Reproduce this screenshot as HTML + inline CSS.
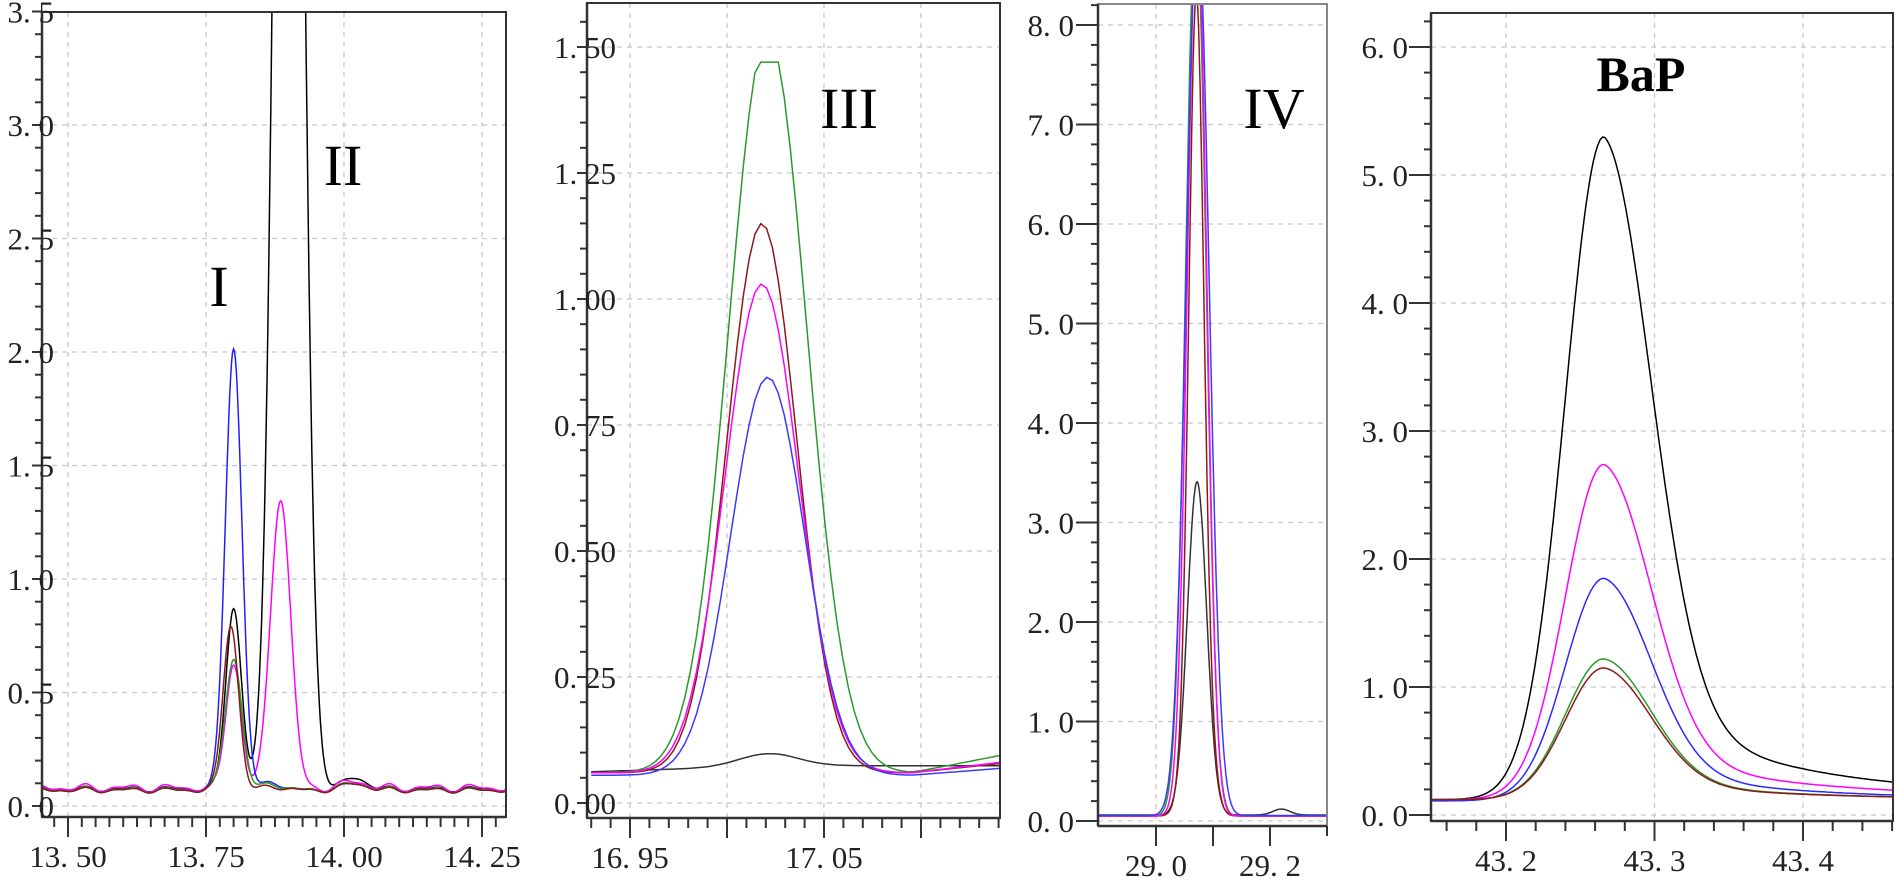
<!DOCTYPE html>
<html><head><meta charset="utf-8">
<style>
html,body{margin:0;padding:0;background:#fff;}
svg text{font-family:"Liberation Serif","Noto Serif CJK SC",serif;}
</style></head>
<body>
<svg id="s" width="1895" height="880" xmlns="http://www.w3.org/2000/svg"></svg>
<script>
const S=document.getElementById('s');
let out='';
function g(x,m,s){return Math.exp(-0.5*((x-m)/s)**2);}
function panel(P){
  const X=v=>P.x0+(v-P.xv0)*P.xs, Y=v=>P.y0-(v)*P.ys;
  const id='c'+P.x0;
  out+=`<defs><clipPath id="${id}"><rect x="${P.L}" y="${P.T}" width="${P.R-P.L}" height="${P.B-P.T}"/></clipPath></defs>`;
  P.xg.forEach(v=>{out+=`<line x1="${X(v)}" y1="${P.T}" x2="${X(v)}" y2="${P.B}" stroke="#c8c8c8" stroke-width="1.3" stroke-dasharray="5,5"/>`;});
  P.yl.forEach(o=>{out+=`<line x1="${P.L}" y1="${Y(o[0])}" x2="${P.R}" y2="${Y(o[0])}" stroke="#c8c8c8" stroke-width="1.3" stroke-dasharray="5,5"/>`;});
  P.series.forEach(sr=>{
    let d='';
    for(let i=0;i<=P.n;i++){const v=P.xa+(P.xb-P.xa)*i/P.n;const y=sr.f(v);d+=(i?'L':'M')+X(v).toFixed(1)+','+Y(y).toFixed(1);}
    out+=`<path d="${d}" fill="none" stroke="${sr.c}" stroke-width="1.5" clip-path="url(#${id})"/>`;
  });
  out+=`<rect x="${P.L}" y="${P.T}" width="${P.R-P.L}" height="${P.B-P.T}" fill="none" stroke="${P.fc||'#333'}" stroke-width="2"/>`;
  out+=`<line x1="${P.L}" y1="${P.T}" x2="${P.L}" y2="${P.B}" stroke="#333" stroke-width="2.5"/>`;
  out+=`<line x1="${P.L}" y1="${P.B}" x2="${P.R}" y2="${P.B}" stroke="#333" stroke-width="2.5"/>`;
  for(let v=P.ymt0;Y(v)>=P.T-1;v+=P.ymt){const y=Y(v);if(y>P.B)continue;out+=`<line x1="${P.L-7}" y1="${y}" x2="${P.L}" y2="${y}" stroke="#333" stroke-width="2"/>`;}
  P.yl.forEach(o=>{const y=Y(o[0]);out+=`<line x1="${P.L-P.ytl}" y1="${y}" x2="${P.L}" y2="${y}" stroke="#333" stroke-width="2"/><text x="${P.ylx}" y="${y+11}" font-size="31" text-anchor="end" fill="#222">${o[1]}</text>`;});
  for(let v=P.xmt0;X(v)<=P.R+1;v+=P.xmt){const x=X(v);if(x<P.L)continue;out+=`<line x1="${x}" y1="${P.B}" x2="${x}" y2="${P.B+10}" stroke="#333" stroke-width="2"/>`;}
  P.xt.forEach(v=>{const x=X(v);out+=`<line x1="${x}" y1="${P.B}" x2="${x}" y2="${P.B+20}" stroke="#333" stroke-width="2"/>`;});
  P.xl.forEach(o=>{const x=X(o[0]);out+=`<text x="${x}" y="${P.B+50}" font-size="31" text-anchor="middle" fill="#222">${o[1]}</text>`;});
}
function wig(x,a){return a*Math.sin(x*80)+a*0.6*Math.sin(x*137+1);}
// Panel 1
panel({L:42,R:506,T:12,B:817,x0:68,xv0:13.5,xs:138/0.25,y0:806,ys:113.5/0.5,xa:13.455,xb:14.3,n:500,
 xg:[13.5,13.75,14.0,14.25],xt:[13.5,13.75,14.0,14.25],
 yl:[[0,'0. 0'],[0.5,'0. 5'],[1,'1. 0'],[1.5,'1. 5'],[2,'2. 0'],[2.5,'2. 5'],[3,'3. 0'],[3.5,'3. 5']],
 ymt0:0,ymt:0.1,ytl:10,ylx:54,xmt0:13.45,xmt:0.025,
 xl:[[13.5,'13. 50'],[13.75,'13. 75'],[14.0,'14. 00'],[14.25,'14. 25']],
 series:[
  {c:'#000',f:x=>0.075+wig(x,0.008)+0.8*g(x,13.8,0.014)+9*g(x,13.9,0.022)+0.05*g(x,14.02,0.02)},
  {c:'#ff00ff',f:x=>0.08+wig(x,0.012)+0.55*g(x,13.8,0.014)+1.28*g(x,13.885,0.018)+0.03*g(x,14.02,0.02)},
  {c:'#2020ff',f:x=>0.07+wig(x,0.008)+1.95*g(x,13.8,0.015)+0.04*g(x,13.87,0.015)+0.03*g(x,14.02,0.02)},
  {c:'#2a9a2a',f:x=>0.072+wig(x,0.009)+0.58*g(x,13.8,0.015)+0.03*g(x,13.87,0.015)+0.03*g(x,14.02,0.02)},
  {c:'#8b1a1a',f:x=>0.07+wig(x,0.008)+0.73*g(x,13.795,0.014)+0.02*g(x,13.87,0.015)+0.03*g(x,14.02,0.02)}
 ]});
// Panel 2
const P2=17.021;
function tail2(x,k){return x>17.095?k*(x-17.095):0;}
panel({L:587,R:1000,T:3,B:818,x0:630,xv0:16.95,xs:97/0.05,y0:803,ys:126/0.25,xa:16.93,xb:17.141,n:70,
 xg:[16.95,17.0,17.05,17.1],xt:[16.95,17.0,17.05,17.1],
 yl:[[0,'0. 00'],[0.25,'0. 25'],[0.5,'0. 50'],[0.75,'0. 75'],[1,'1. 00'],[1.25,'1. 25'],[1.5,'1. 50']],
 ymt0:0,ymt:0.05,ytl:10,ylx:616,xmt0:16.93,xmt:0.01,
 xl:[[16.95,'16. 95'],[17.05,'17. 05']],
 series:[
  {c:'#333',f:x=>0.062+0.012*Math.min(1,(x-16.93)/0.1)+0.025*g(x,P2,0.015)},
  {c:'#2a9a2a',f:x=>0.06+tail2(x,0.75)+1.41*Math.min(1,g(x,P2,0.02)*1.04)},
  {c:'#8b1a1a',f:x=>0.06+tail2(x,0.4)+1.09*g(x,P2-0.003,0.018)},
  {c:'#ff00ff',f:x=>0.06+tail2(x,0.45)+0.97*g(x,P2-0.003,0.019)},
  {c:'#3a3aff',f:x=>0.055+tail2(x,0.3)+0.79*g(x,P2,0.019)}
 ]});
// Panel 3
panel({L:1098,R:1327,T:4,B:826,fc:'#888',x0:1156,xv0:29.0,xs:570,y0:821,ys:99.5,xa:28.9,xb:29.3,n:300,
 xg:[29.0],xt:[29.0,29.1,29.2],
 yl:[[0,'0. 0'],[1,'1. 0'],[2,'2. 0'],[3,'3. 0'],[4,'4. 0'],[5,'5. 0'],[6,'6. 0'],[7,'7. 0'],[8,'8. 0']],
 ymt0:0,ymt:0.2,ytl:22,ylx:1074,xmt0:29.0,xmt:0.1,
 xl:[[29.0,'29. 0'],[29.2,'29. 2']],
 series:[
  {c:'#333',f:x=>0.06+3.35*g(x,29.072,0.017)+0.06*g(x,29.22,0.015)},
  {c:'#2a9a2a',f:x=>0.05+9*g(x,29.07,0.018)},
  {c:'#8b1a1a',f:x=>0.05+3.3*g(x,29.073,0.017)+5*g(x,29.07,0.012)},
  {c:'#ff00ff',f:x=>0.05+9*g(x,29.072,0.017)},
  {c:'#3a3aff',f:x=>0.055+9*g(x,29.073,0.02)}
 ]});
// Panel 4
function bp(x,h,base,tail){const m=43.266;let v=x<=m?g(x,m,0.026):(0.82*g(x,m,0.032)+0.18*Math.exp(-(x-m)/0.09));return base+h*v+(x>m?tail*(1-g(x,m,0.04)):0);}
panel({L:1431,R:1893,T:13,B:821,x0:1506,xv0:43.2,xs:148.5/0.1,y0:815,ys:128,xa:43.15,xb:43.465,n:200,
 xg:[43.2,43.3,43.4],xt:[43.2,43.3,43.4],
 yl:[[0,'0. 0'],[1,'1. 0'],[2,'2. 0'],[3,'3. 0'],[4,'4. 0'],[5,'5. 0'],[6,'6. 0']],
 ymt0:0,ymt:0.2,ytl:22,ylx:1408,xmt0:43.16,xmt:0.02,
 xl:[[43.2,'43. 2'],[43.3,'43. 3'],[43.4,'43. 4']],
 series:[
  {c:'#000',f:x=>bp(x,5.18,0.12,0.03)},
  {c:'#ff00ff',f:x=>bp(x,2.62,0.12,0.02)},
  {c:'#2a2aff',f:x=>bp(x,1.74,0.11,0.01)},
  {c:'#2a9a2a',f:x=>bp(x,1.1,0.12,0.0)},
  {c:'#8b1a1a',f:x=>bp(x,1.03,0.12,0.0)}
 ]});
out+=`<text x="219" y="306" font-size="58" text-anchor="middle" fill="#000">I</text>`;
out+=`<text x="343" y="185" font-size="58" text-anchor="middle" fill="#000">II</text>`;
out+=`<text x="849" y="128" font-size="58" text-anchor="middle" fill="#000">III</text>`;
out+=`<text x="1274" y="128" font-size="58" text-anchor="middle" fill="#000">IV</text>`;
out+=`<text x="1641" y="91" font-size="50" font-weight="bold" text-anchor="middle" fill="#000">BaP</text>`;
S.innerHTML=out;
</script>
</body></html>
